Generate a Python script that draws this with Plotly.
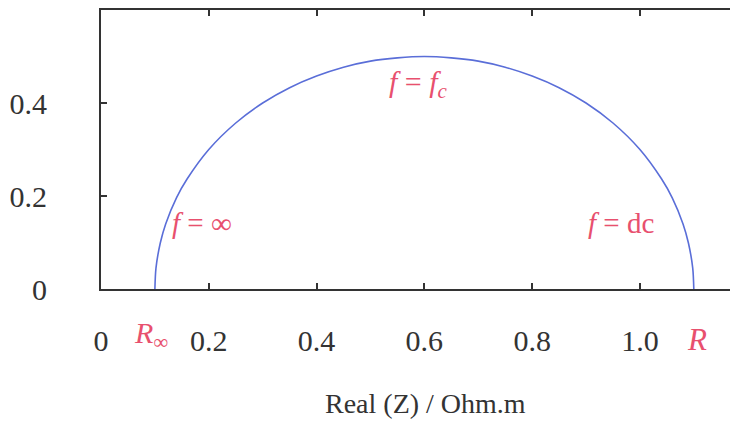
import plotly.graph_objects as go

# Curve points (Real Z, -Imag Z)
real_z = [0.100, 0.102, 0.110, 0.120, 0.140, 0.160, 0.200, 0.250, 0.300, 0.350, 0.400, 0.450,
          0.500, 0.550, 0.600, 0.650, 0.700, 0.750, 0.800, 0.850, 0.900, 0.950, 1.000,
          1.040, 1.060, 1.080, 1.090, 1.098, 1.100]
imag_z = [0.000, 0.045, 0.099, 0.140, 0.196, 0.237, 0.300, 0.357, 0.400, 0.433, 0.458, 0.477,
          0.490, 0.497, 0.500, 0.497, 0.490, 0.477, 0.458, 0.433, 0.400, 0.357, 0.300,
          0.237, 0.196, 0.140, 0.099, 0.045, 0.000]

x_tickvals = [0, 0.2, 0.4, 0.6, 0.8, 1.0]
x_ticktext = ["0", "0.2", "0.4", "0.6", "0.8", "1.0"]
y_tickvals = [0, 0.2, 0.4]
y_ticktext = ["0", "0.2", "0.4"]

RED = "#E8506E"
BLUE = "#5A6ED8"
DARK = "#333333"
FONT = "Liberation Serif"

fig = go.Figure()
fig.add_trace(go.Scatter(x=real_z, y=imag_z, mode="lines",
                         line=dict(color=BLUE, width=1.6, shape="spline", smoothing=0.8),
                         showlegend=False, hoverinfo="skip"))

fig.update_layout(
    width=730, height=413,
    margin=dict(l=93, r=0, t=0, b=132),
    paper_bgcolor="white", plot_bgcolor="white",
    font=dict(family=FONT, color=DARK),
    xaxis=dict(range=[0, 1.182], tickvals=x_tickvals, ticktext=x_ticktext,
               showgrid=False, zeroline=False, showline=True, linecolor=DARK,
               linewidth=2, mirror="ticks", ticks="inside", ticklen=6,
               tickcolor=DARK, tickwidth=1.5,
               tickfont=dict(family=FONT, size=30, color=DARK),
               ticklabelstandoff=24),
    yaxis=dict(range=[0, 0.6], tickvals=y_tickvals, ticktext=y_ticktext,
               showgrid=False, zeroline=False, showline=True, linecolor=DARK,
               linewidth=2, ticks="inside", ticklen=6, tickcolor=DARK,
               tickwidth=1.5,
               tickfont=dict(family=FONT, size=30, color=DARK),
               ticklabelstandoff=46),
)

annots = [
    dict(x=0.59, y=0.44, xref="x", yref="y", text="<i>f</i> = <i>f<sub>c</sub></i>",
         font=dict(family=FONT, size=30, color=RED)),
    dict(x=0.187, y=0.142, xref="x", yref="y", text="<i>f</i> = ∞",
         font=dict(family=FONT, size=29, color=RED)),
    dict(x=0.965, y=0.142, xref="x", yref="y", text="<i>f</i> = dc",
         font=dict(family=FONT, size=29, color=RED)),
    dict(x=0.093, y=-0.165, xref="x", yref="paper", text="<i>R</i><sub>∞</sub>",
         font=dict(family=FONT, size=30, color=RED)),
    dict(x=1.105, y=-0.18, xref="x", yref="paper", text="<i>R</i>",
         font=dict(family=FONT, size=31, color=RED)),
    dict(x=0.51, y=-0.41, xref="paper", yref="paper", text="Real (Z) / Ohm.m",
         font=dict(family=FONT, size=28, color=DARK)),
]
for a in annots:
    fig.add_annotation(showarrow=False, xanchor="center", yanchor="middle", **a)

fig.write_html("out.html")
